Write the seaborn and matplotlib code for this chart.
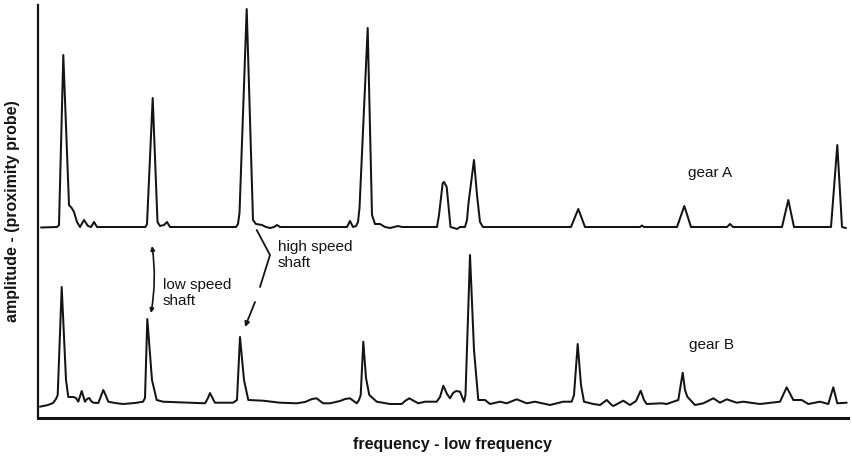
import matplotlib
matplotlib.use("Agg")
import matplotlib.pyplot as plt
import seaborn as sns
import pandas as pd

# ---- data (frequency in arbitrary units, amplitude in arbitrary units) ----
gear_a_freq = [41, 57, 59, 63.3, 69, 71.7, 74, 77, 80, 84, 88, 91, 94, 97,
               145.5, 147, 152.7, 157.5, 160, 164, 167, 170,
               236, 238, 239.5, 246.7, 253, 256, 262, 266, 270, 274, 277, 280,
               347, 350, 353, 356, 358, 359.5, 367.7, 372, 375, 380, 385, 390, 394, 398, 402,
               437, 439, 442.7, 444, 446.7, 448.5, 450.5, 454, 457, 460,
               465, 467, 468.5, 474, 477, 480, 483,
               571, 578.3, 585, 640, 642, 644, 677, 684.3, 691,
               727, 730, 733, 782, 788.3, 794, 831, 837.3, 842, 846]
gear_a_amp = [190.5, 191, 193, 363, 213, 210, 206, 196, 191, 198, 192, 191, 196, 191,
              191, 194, 320, 196, 192, 193, 196, 191,
              191, 194, 205, 409, 198, 194, 193, 191, 190, 191, 193, 191,
              191, 197, 191, 192, 196, 210, 390, 203, 194, 194, 191, 190, 191, 192, 191,
              191, 203, 235, 236, 231, 212, 191, 190, 189, 191,
              191, 198, 215, 258, 223, 196, 191,
              191, 209, 191, 191, 192.5, 191, 191, 212, 191,
              191, 194, 191, 191, 218, 191, 191, 273, 191, 190]

gear_b_freq = [40, 48, 53, 56, 57.7, 61.7, 66, 68.3, 73.3, 76, 78.3, 81.7, 85, 87, 89.3,
               91, 93.3, 98.3, 101, 103.3, 106, 108.3, 115, 123, 135, 143, 145, 147.3,
               152, 156.7, 163, 190, 205, 208, 210, 213, 215, 233, 237, 240, 244, 248.3,
               263, 280, 296.7, 305, 312, 316.7, 320, 323.3, 330, 340, 345, 350, 356.7,
               359, 360.7, 363.3, 366, 369.3, 376.7, 390, 401.7, 405, 409.3, 414, 418.3,
               425, 436.7, 440, 443.3, 447, 450, 453, 456, 460, 464, 465.5, 470, 474,
               478.3, 485, 490, 500, 506.7, 516.7, 526.7, 535, 550, 563.3, 571.7, 574,
               577.7, 581, 584, 593.3, 600, 606.7, 611.7, 613.3, 623.3, 630, 636, 640.7,
               644, 646.7, 661.7, 666.7, 678.3, 682.7, 685, 687.3, 695, 703.3, 713.3, 720,
               726.7, 736.7, 743.3, 760, 780, 786.7, 793.3, 801.7, 808.3, 820, 828.3,
               833.3, 837.3, 846.7]
gear_b_amp = [11.3, 13, 15, 19, 23, 131, 38, 21, 21, 20, 16.3, 27, 16.3, 19, 20,
              17, 15.3, 15, 22, 28, 22, 16.3, 15, 14, 15, 16.3, 20, 99,
              38, 18, 16.3, 15.3, 14.7, 20, 25, 19, 15.3, 15.3, 18, 81, 38, 18,
              17.3, 15.3, 14.7, 16, 19, 19.7, 17, 14.7, 14.7, 17, 19, 19.7, 14.7,
              18, 23, 76.3, 40, 23, 16.3, 14, 14, 17, 19.7, 17, 14.7,
              16.3, 16.3, 21, 32.3, 24, 19.7, 25, 27, 26.3, 16.3, 23, 163, 68,
              18, 18, 14, 16.3, 14.7, 18.7, 14.7, 16.3, 13, 16.3, 16.3, 23,
              74, 33, 16.3, 14, 13, 18, 13, 12, 17.3, 13, 17, 27.3,
              18, 14, 14.7, 14, 18, 45.3, 28, 21.3, 13, 14.7, 19.7, 15.3,
              18.7, 15.3, 16.3, 14, 16.3, 30.7, 18, 18, 14, 16.3, 14,
              30.7, 14.7, 15.3]

series_labels = ["gear A", "gear B"]
x_label = "frequency - low frequency"
y_label = "amplitude - (proximity probe)"

df_a = pd.DataFrame({"freq": gear_a_freq, "amp": gear_a_amp})
df_b = pd.DataFrame({"freq": gear_b_freq, "amp": gear_b_amp})

sns.set_style("white")
plt.rcParams["font.family"] = ["Liberation Sans", "DejaVu Sans"]

W, H = 852, 462
fig = plt.figure(figsize=(W / 100, H / 100), dpi=100)
ax = fig.add_axes([38 / W, (H - 418) / H, 810 / W, 413 / H])

ink = "#141414"
sns.lineplot(data=df_a, x="freq", y="amp", ax=ax, sort=False, estimator=None,
             color=ink, linewidth=1.45)
sns.lineplot(data=df_b, x="freq", y="amp", ax=ax, sort=False, estimator=None,
             color=ink, linewidth=1.45)

ax.set_xlim(38, 848)
ax.set_ylim(0, 413)
ax.set_xticks([])
ax.set_yticks([])
sns.despine(ax=ax)
ax.spines["left"].set_linewidth(1.6)
ax.spines["bottom"].set_linewidth(2.2)
ax.spines["left"].set_color(ink)
ax.spines["bottom"].set_color(ink)

ax.set_xlabel(x_label, fontsize=11.5, fontweight="bold", color=ink)
ax.set_ylabel(y_label, fontsize=11.5, fontweight="bold", color=ink)
ax.xaxis.set_label_coords((452 - 38) / 810, -(445 - 418) / 413)
ax.yaxis.set_label_coords(-(38 - 13) / 810, 0.5)
ax.xaxis.label.set_va("center")
ax.yaxis.label.set_va("center")

# series labels
ax.text(688, 245, series_labels[0], fontsize=11, ha="left", va="center", color=ink)
ax.text(689, 73, series_labels[1], fontsize=11, ha="left", va="center", color=ink)

# low speed shaft annotation
ax.text(163, 125, "low speed\nshaft", fontsize=11, ha="left", va="center",
        linespacing=1.1, color=ink)
ax.annotate("", xy=(151, 105), xytext=(152, 172),
            arrowprops=dict(arrowstyle="<|-|>", color=ink, lw=1.2,
                            mutation_scale=6, shrinkA=0, shrinkB=0,
                            connectionstyle="arc3,rad=-0.08"))

# high speed shaft annotation
ax.text(278, 163, "high speed\nshaft", fontsize=11, ha="left", va="center",
        linespacing=1.1, color=ink)
ax.plot([256.7, 270, 260], [188, 163, 131], color=ink, lw=1.3, solid_capstyle="round")
ax.annotate("", xy=(245, 91), xytext=(255, 116),
            arrowprops=dict(arrowstyle="-|>", color=ink, lw=1.3,
                            mutation_scale=7, shrinkA=0, shrinkB=0))

fig.savefig("out.png", dpi=100)
